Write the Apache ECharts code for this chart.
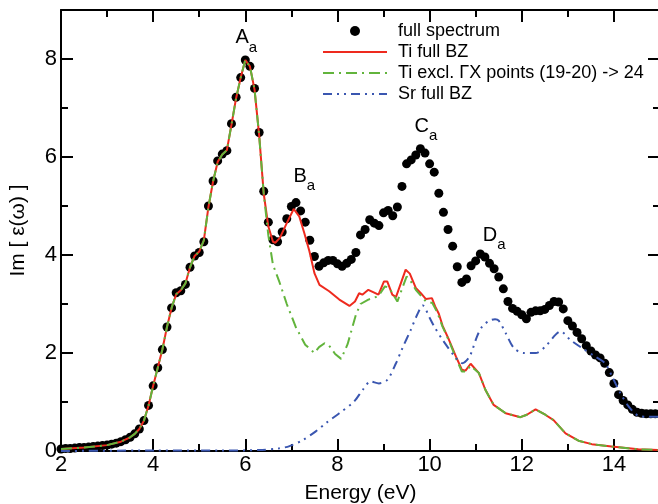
<!DOCTYPE html>
<html>
<head>
<meta charset="utf-8">
<script src="https://cdn.jsdelivr.net/npm/echarts@6/dist/echarts.min.js"></script>
<style>
  html, body { margin: 0; padding: 0; background: #fff; }
  #chart { width: 658px; height: 504px; }
</style>
</head>
<body>
<div id="chart"></div>
<script>
// full spectrum (dots)
const specE = [2.0,2.1,2.2,2.3,2.4,2.5,2.6,2.7,2.8,2.9,3.0,3.1,3.2,3.3,3.4,3.5,3.6,3.7,3.8,3.9,
  4.0,4.1,4.2,4.3,4.4,4.5,4.6,4.7,4.8,4.9,5.0,5.1,5.2,5.3,5.4,5.5,5.6,5.7,5.8,5.9,
  6.0,6.1,6.2,6.3,6.4,6.5,6.6,6.7,6.8,6.9,7.0,7.1,7.2,7.3,7.4,7.5,7.6,7.7,7.8,7.9,
  8.0,8.1,8.2,8.3,8.4,8.5,8.6,8.7,8.8,8.9,9.0,9.1,9.2,9.3,9.4,9.5,9.6,9.7,9.8,9.9,
  10.0,10.1,10.2,10.3,10.4,10.5,10.6,10.7,10.8,10.9,11.0,11.1,11.2,11.3,11.4,11.5,11.6,11.7,11.8,11.9,
  12.0,12.1,12.2,12.3,12.4,12.5,12.6,12.7,12.8,12.9,13.0,13.1,13.2,13.3,13.4,13.5,13.6,13.7,13.8,13.9,
  14.0,14.1,14.2,14.3,14.4,14.5,14.6,14.7,14.8,14.9,15.0];
const specV = [0.04,0.05,0.05,0.06,0.07,0.07,0.08,0.09,0.10,0.11,0.12,0.14,0.16,0.19,0.23,0.28,0.35,0.45,0.62,0.93,
  1.33,1.70,2.07,2.53,2.92,3.23,3.27,3.40,3.75,3.98,4.05,4.27,5.00,5.51,5.92,6.06,6.13,6.68,7.22,7.62,
  7.98,7.85,7.40,6.50,5.30,4.67,4.31,4.27,4.47,4.74,4.99,5.07,4.90,4.67,4.30,3.97,3.77,3.84,3.89,3.89,
  3.82,3.77,3.83,3.91,4.05,4.41,4.52,4.72,4.65,4.60,4.86,4.91,4.80,4.98,5.40,5.86,5.94,6.04,6.17,6.08,
  5.86,5.69,5.26,4.87,4.52,4.18,3.76,3.44,3.51,3.78,3.88,4.02,3.96,3.83,3.72,3.55,3.31,3.05,2.91,2.85,
  2.78,2.70,2.83,2.86,2.86,2.89,2.97,3.05,3.04,2.90,2.66,2.55,2.42,2.29,2.15,2.04,1.96,1.90,1.79,1.60,
  1.38,1.15,1.03,0.94,0.85,0.79,0.77,0.76,0.76,0.76,0.76];

// Ti full BZ
const tiE = [2.0,2.5,3.0,3.3,3.5,3.6,3.7,3.8,3.9,4.0,4.1,4.2,4.3,4.4,4.5,4.6,4.7,4.8,4.9,5.0,
  5.1,5.2,5.3,5.4,5.5,5.6,5.7,5.8,5.9,6.0,6.1,6.2,6.3,6.4,6.5,6.6,6.65,6.75,6.9,7.05,
  7.17,7.28,7.39,7.5,7.61,7.82,8.04,8.26,8.38,8.47,8.54,8.67,8.89,9.01,9.08,9.19,9.27,9.48,9.57,9.70,
  9.81,9.92,10.05,10.12,10.2,10.28,10.42,10.57,10.70,10.78,10.89,11.07,11.21,11.39,11.65,11.97,12.11,12.30,12.51,12.69,
  12.95,13.23,13.52,13.95,14.53,15.0];
const tiV = [0.04,0.07,0.12,0.19,0.28,0.35,0.45,0.62,0.93,1.33,1.70,2.07,2.53,2.92,3.20,3.28,3.42,3.75,3.98,4.07,
  4.30,4.98,5.50,5.90,6.05,6.14,6.66,7.20,7.62,7.98,7.85,7.38,6.45,5.25,4.58,4.27,4.25,4.35,4.65,4.94,
  4.79,4.45,4.08,3.63,3.39,3.26,3.09,2.96,3.05,3.22,3.19,3.29,3.19,3.46,3.46,3.19,3.14,3.70,3.62,3.33,
  3.22,3.10,3.12,2.95,2.80,2.56,2.27,1.93,1.66,1.64,1.78,1.59,1.25,0.94,0.77,0.69,0.74,0.85,0.74,0.63,
  0.36,0.21,0.14,0.09,0.035,0.02];

// Ti excl. GX points
const exE = [2.0,2.5,3.0,3.3,3.5,3.6,3.7,3.8,3.9,4.0,4.1,4.2,4.3,4.4,4.5,4.6,4.7,4.8,4.9,5.0,
  5.1,5.2,5.3,5.4,5.5,5.6,5.7,5.8,5.9,6.0,6.1,6.2,6.3,6.4,6.5,6.6,6.74,6.9,7.1,7.3,
  7.5,7.6,7.72,7.82,7.95,8.08,8.22,8.4,8.5,8.67,8.89,9.03,9.12,9.3,9.5,9.57,9.7,9.92,10.06,10.17,
  10.28,10.42,10.57,10.70,10.78,10.89,11.07,11.21,11.39,11.65,11.97,12.11,12.30,12.51,12.69,12.95,13.23,13.52,13.95,14.53,
  15.0];
const exV = [0.04,0.07,0.12,0.19,0.28,0.35,0.45,0.62,0.93,1.33,1.70,2.07,2.53,2.92,3.20,3.28,3.42,3.75,3.98,4.07,
  4.30,4.98,5.50,5.90,6.05,6.14,6.66,7.20,7.62,7.98,7.85,7.38,6.45,5.25,4.40,3.80,3.45,3.00,2.52,2.17,
  2.00,2.12,2.20,2.15,1.98,1.88,2.18,2.78,3.00,3.09,3.16,3.36,3.33,3.05,3.56,3.50,3.29,3.05,3.02,2.82,
  2.54,2.25,1.90,1.62,1.62,1.74,1.59,1.25,0.94,0.77,0.69,0.74,0.85,0.74,0.63,0.36,0.21,0.14,0.09,0.035,
  0.02];

// Sr full BZ
const srE = [2.0,4.0,5.5,6.3,6.74,6.96,7.24,7.53,7.75,8.04,8.36,8.55,8.72,8.90,9.08,9.27,9.41,9.59,9.73,9.85,
  10.0,10.10,10.28,10.57,10.71,10.85,10.93,11.03,11.14,11.30,11.42,11.50,11.65,11.83,12.04,12.30,12.51,12.73,12.84,13.05,
  13.31,13.59,13.81,13.96,14.14,14.32,14.53,14.75,15.0];
const srV = [0.0,0.01,0.01,0.02,0.055,0.10,0.22,0.40,0.57,0.77,1.01,1.25,1.42,1.38,1.45,1.79,2.10,2.47,2.78,2.97,
  2.72,2.54,2.27,1.90,1.79,1.90,2.07,2.34,2.54,2.66,2.69,2.66,2.41,2.10,2.00,2.00,2.13,2.37,2.44,2.27,
  2.10,1.93,1.79,1.52,1.18,0.91,0.72,0.70,0.70];

// peak labels
const peakNames = ['A', 'B', 'C', 'D'];
const peakE = [6.02, 7.28, 9.92, 11.4];
const peakV = [8.36, 5.54, 6.56, 4.33];

const xTicks = [2, 4, 6, 8, 10, 12, 14];
const yTicks = [0, 2, 4, 6, 8];

const FONT = "'Liberation Sans', Arial, sans-serif";
const pairs = (xs, ys) => xs.map((x, i) => [x, ys[i]]);

const myChart = echarts.init(document.getElementById('chart'));

const tickCfg = { show: true, inside: true, length: 12, lineStyle: { color: '#000', width: 2 } };
const minorCfg = { show: true, splitNumber: 2, length: 7, lineStyle: { color: '#000', width: 2 } };
const noDot = { opacity: 0 };

const option = {
  animation: false,
  backgroundColor: '#fff',
  grid: { left: 61, right: -2, top: 10, bottom: 53, containLabel: false, outerBoundsMode: 'none' },
  legend: {
    orient: 'vertical',
    left: 317,
    top: 17,
    itemWidth: 64,
    itemHeight: 10,
    itemGap: 3,
    textStyle: { fontFamily: FONT, fontSize: 18, color: '#000', lineHeight: 18, padding: [0, 0, 0, 6] },
    data: [
      { name: 'full spectrum', icon: 'path://M5,0A5,5,0,1,1,5,10A5,5,0,1,1,5,0Z', itemStyle: { color: '#000', opacity: 1 } },
      { name: 'Ti full BZ', itemStyle: noDot },
      { name: 'Ti excl. ΓX points (19-20) -> 24', itemStyle: noDot },
      { name: 'Sr full BZ', itemStyle: noDot }
    ]
  },
  xAxis: [
    {
      type: 'value', min: 2, max: 15, interval: 2,
      name: 'Energy (eV)', nameLocation: 'middle', nameGap: 32,
      nameTextStyle: { fontFamily: FONT, fontSize: 21, color: '#000' },
      axisLine: { show: true, onZero: false, lineStyle: { color: '#000', width: 2 } },
      axisTick: tickCfg,
      minorTick: minorCfg,
      splitLine: { show: false },
      axisLabel: {
        fontFamily: FONT, fontSize: 22, color: '#000', margin: 3,
        formatter: v => (xTicks.indexOf(v) >= 0 ? String(v) : '')
      }
    },
    {
      type: 'value', min: 2, max: 15, interval: 2, position: 'top',
      axisLine: { show: true, onZero: false, lineStyle: { color: '#000', width: 2 } },
      axisTick: tickCfg,
      minorTick: minorCfg,
      splitLine: { show: false },
      axisLabel: { show: false }
    }
  ],
  yAxis: [
    {
      type: 'value', min: 0, max: 9, interval: 2,
      name: 'Im [ ε(ω) ]', nameLocation: 'middle', nameGap: 32,
      nameTextStyle: { fontFamily: FONT, fontSize: 21, color: '#000' },
      axisLine: { show: true, onZero: false, lineStyle: { color: '#000', width: 2 } },
      axisTick: tickCfg,
      minorTick: minorCfg,
      splitLine: { show: false },
      axisLabel: {
        fontFamily: FONT, fontSize: 22, color: '#000', margin: 4,
        formatter: v => (yTicks.indexOf(v) >= 0 ? String(v) : '')
      }
    },
    {
      type: 'value', min: 0, max: 9, interval: 2, position: 'right',
      axisLine: { show: true, onZero: false, lineStyle: { color: '#000', width: 2 } },
      axisTick: tickCfg,
      minorTick: minorCfg,
      splitLine: { show: false },
      axisLabel: { show: false }
    }
  ],
  series: [
    {
      name: 'full spectrum', type: 'scatter',
      data: pairs(specE, specV),
      symbol: 'circle', symbolSize: 9,
      itemStyle: { color: '#000', opacity: 1 },
      z: 2
    },
    {
      name: 'Ti full BZ', type: 'line',
      data: pairs(tiE, tiV),
      symbol: 'none', smooth: false,
      lineStyle: { color: '#ee2a1e', width: 2 },
      itemStyle: { color: '#ee2a1e' },
      z: 3
    },
    {
      name: 'Ti excl. ΓX points (19-20) -> 24', type: 'line',
      data: pairs(exE, exV),
      symbol: 'none', smooth: false,
      lineStyle: { color: '#62b43c', width: 2, type: [11, 5, 2, 5] },
      itemStyle: { color: '#62b43c' },
      z: 4
    },
    {
      name: 'Sr full BZ', type: 'line',
      data: pairs(srE, srV),
      symbol: 'none', smooth: 0.3,
      lineStyle: { color: '#3a56b0', width: 2, type: [9, 5, 2, 5, 2, 5] },
      itemStyle: { color: '#3a56b0' },
      z: 4
    },
    {
      name: 'peaks', type: 'scatter',
      data: peakE.map((x, i) => ({ value: [x, peakV[i]], name: peakNames[i] })),
      symbolSize: 0, silent: true,
      itemStyle: { opacity: 1 },
      label: {
        show: true, position: 'inside',
        formatter: p => '{m|' + p.name + '}{s|a}',
        rich: {
          m: { fontFamily: FONT, fontSize: 20, color: '#000', lineHeight: 27, verticalAlign: 'top' },
          s: { fontFamily: FONT, fontSize: 15, color: '#000', lineHeight: 27, verticalAlign: 'bottom' }
        }
      },
      z: 5
    }
  ]
};

myChart.setOption(option);
</script>
</body>
</html>
